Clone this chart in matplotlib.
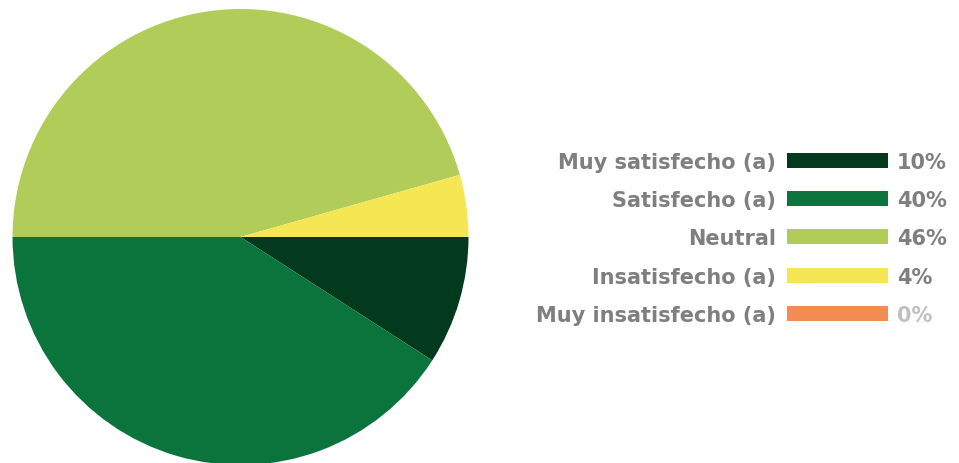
import matplotlib
matplotlib.use("Agg")
import matplotlib.pyplot as plt

categories = ["Muy satisfecho (a)", "Satisfecho (a)", "Neutral", "Insatisfecho (a)", "Muy insatisfecho (a)"]
values = [9.1, 40.9, 45.6, 4.4, 0.0]
pct_labels = ["10%", "40%", "46%", "4%", "0%"]
colors = ["#033a1e", "#0b743d", "#b2cc5a", "#f5e653", "#f28c52"]

W, H = 959, 464
fig = plt.figure(figsize=(W / 100, H / 100), dpi=100)
plt.rcParams['font.family'] = ['DejaVu Sans']

# Pie
cx, cy, r = 240.5, 238, 228
ax = fig.add_axes([(cx - r) / W, (H - cy - r) / H, 2 * r / W, 2 * r / H])
ax.pie(values, colors=colors, startangle=0, counterclock=False, radius=1,
       wedgeprops=dict(linewidth=0))
ax.set_xlim(-1, 1)
ax.set_ylim(-1, 1)
ax.set_aspect('equal')
ax.axis('off')

# Legend
lax = fig.add_axes([0, 0, 1, 1])
lax.set_xlim(0, W)
lax.set_ylim(H, 0)
lax.axis('off')
ys = [161, 199, 237.5, 276, 314]
lax.barh(ys, [101] * 5, left=787, height=15, color=colors)
for y, cat, p in zip(ys, categories, pct_labels):
    lax.text(776, y, cat, ha='right', va='center_baseline', fontsize=15,
             fontweight='bold', color='#7f7f7f')
    lax.text(897, y, p, ha='left', va='center_baseline', fontsize=15,
             fontweight='bold', color='#c0c0c0' if p == "0%" else '#7f7f7f')

fig.savefig("out.png", dpi=100)
